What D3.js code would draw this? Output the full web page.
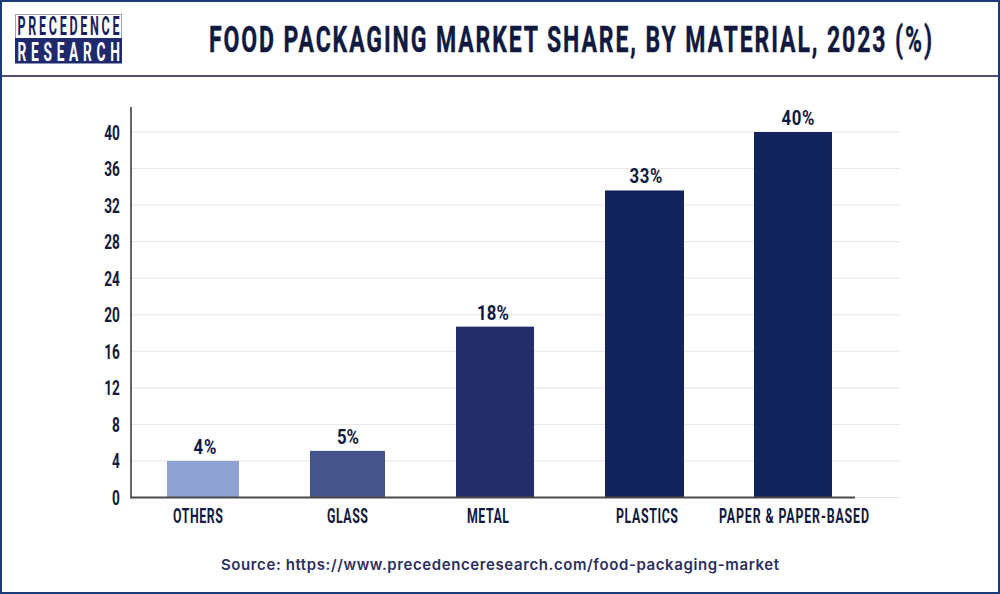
<!DOCTYPE html>
<html>
<head>
<meta charset="utf-8">
<style>
  html, body { margin: 0; padding: 0; background: #fff; }
  svg { display: block; }
  text { font-family: Roboto, sans-serif; font-weight: 700; fill: #11193f; }
</style>
</head>
<body>
<svg id="chart" width="1000" height="594"></svg>
<script src="https://cdn.jsdelivr.net/npm/d3@7"></script>
<script>
const categories = ['OTHERS', 'GLASS', 'METAL', 'PLASTICS', 'PAPER & PAPER-BASED'];
const values = [4, 5.1, 18.7, 33.6, 40];
const valueLabels = ['4%', '5%', '18%', '33%', '40%'];
const yTicks = [0, 4, 8, 12, 16, 20, 24, 28, 32, 36, 40];
const title = 'FOOD PACKAGING MARKET SHARE, BY MATERIAL, 2023 (%)';
const source = 'Source: https://www.precedenceresearch.com/food-packaging-market';

const svg = d3.select('#chart');

// the bars in the original are not evenly spaced, so ordinal scales, not a band
const barLeft = d3.scaleOrdinal().domain(categories).range([167, 310, 456, 605, 754]);
const barRight = d3.scaleOrdinal().domain(categories).range([239, 385, 534, 684, 832]);
const labelX = d3.scaleOrdinal().domain(categories).range([197.5, 347, 487.5, 646.5, 793.5]);
const valueX = d3.scaleOrdinal().domain(categories).range([205, 348, 493, 646, 798]);
const labelWidth = d3.scaleOrdinal().domain(categories).range([50, 41, 42, 62, 150]);
const valueWidth = d3.scaleOrdinal().domain(categories).range([23, 22, 32, 33, 33]);
const barColor = d3.scaleOrdinal().domain(categories)
  .range(['#8ea3d3', '#47548c', '#232e68', '#12225a', '#12225a']);
const y = d3.scaleLinear().domain([0, 40]).range([497.5, 132]);

// no condensed face is installed, so squeeze Roboto and spread the letters to the wanted width
function condensed(text, x, yPos, size, squeeze, width) {
  return svg.append('text').text(text)
    .attr('transform', `translate(${x},${yPos}) scale(${squeeze},1)`)
    .attr('font-size', size)
    .attr('textLength', width / squeeze)
    .attr('lengthAdjust', 'spacing');
}

// frame and header
svg.append('rect').attr('x', 1).attr('y', 1).attr('width', 998).attr('height', 592)
  .attr('fill', '#fff').attr('stroke', '#1b3b78').attr('stroke-width', 2);
svg.append('line').attr('x1', 2).attr('x2', 998).attr('y1', 76).attr('y2', 76)
  .attr('stroke', '#4d4c73').attr('stroke-width', 2);

// logo
svg.append('rect').attr('x', 15.5).attr('y', 14.5).attr('width', 106).attr('height', 24)
  .attr('fill', '#fff').attr('stroke', '#9aa0c4');
svg.append('rect').attr('x', 15).attr('y', 38).attr('width', 107).attr('height', 25.5)
  .attr('fill', '#1e2a6b');
condensed('PRECEDENCE', 17.5, 35, 25, 0.5, 102).style('fill', '#171f5c');
condensed('RESEARCH', 17.5, 60.5, 25, 0.55, 102.5).style('fill', '#fff');

// title
condensed(title, 209, 51.5, 36, 0.64, 723)
  .style('stroke', '#11193f').style('stroke-width', 0.4);

// grid
svg.append('g').selectAll('line').data(yTicks).join('line')
  .attr('x1', 131).attr('x2', 900)
  .attr('y1', d => y(d)).attr('y2', d => y(d))
  .attr('stroke', '#e6e6e6').attr('stroke-width', 1);

// bars
svg.append('g').selectAll('rect').data(categories).join('rect')
  .attr('x', d => barLeft(d))
  .attr('width', d => barRight(d) - barLeft(d))
  .attr('y', (d, i) => y(values[i]))
  .attr('height', (d, i) => y(0) - y(values[i]))
  .attr('fill', d => barColor(d));

// y axis
const yAxis = svg.append('g').attr('transform', 'translate(131,0)')
  .call(d3.axisLeft(y).tickValues(yTicks).tickSize(0).tickPadding(16));
yAxis.select('.domain').remove();
yAxis.selectAll('text')
  .attr('font-size', 19.5)
  .attr('dy', '0.36em')
  .attr('transform', 'scale(0.7,1)');
svg.append('line').attr('x1', 131).attr('x2', 131).attr('y1', 107).attr('y2', 498.5)
  .attr('stroke', '#333').attr('stroke-width', 1.5);
svg.append('line').attr('x1', 131).attr('x2', 855).attr('y1', y(0)).attr('y2', y(0))
  .attr('stroke', '#4a4a4a').attr('stroke-width', 2);

// x axis
const xAxis = svg.append('g').attr('transform', 'translate(0,498)')
  .call(d3.axisBottom(labelX).tickSize(0).tickPadding(11));
xAxis.select('.domain').remove();
xAxis.selectAll('text')
  .attr('font-size', 20)
  .attr('transform', 'scale(0.62,1)')
  .attr('textLength', d => labelWidth(d) / 0.62)
  .attr('lengthAdjust', 'spacing');

// value labels
svg.append('g').selectAll('text').data(categories).join('text')
  .attr('transform', (d, i) => `translate(${valueX(d)},${y(values[i]) - 7}) scale(0.8,1)`)
  .attr('text-anchor', 'middle')
  .attr('font-size', 21)
  .attr('textLength', d => valueWidth(d) / 0.8)
  .attr('lengthAdjust', 'spacing')
  .text((d, i) => valueLabels[i]);

// source
svg.append('text').text(source).attr('x', 221).attr('y', 570)
  .attr('font-size', 15).attr('textLength', 558).attr('lengthAdjust', 'spacing')
  .style('font-family', 'Inter').style('font-weight', 600).style('fill', '#2b2f63');
</script>
</body>
</html>
